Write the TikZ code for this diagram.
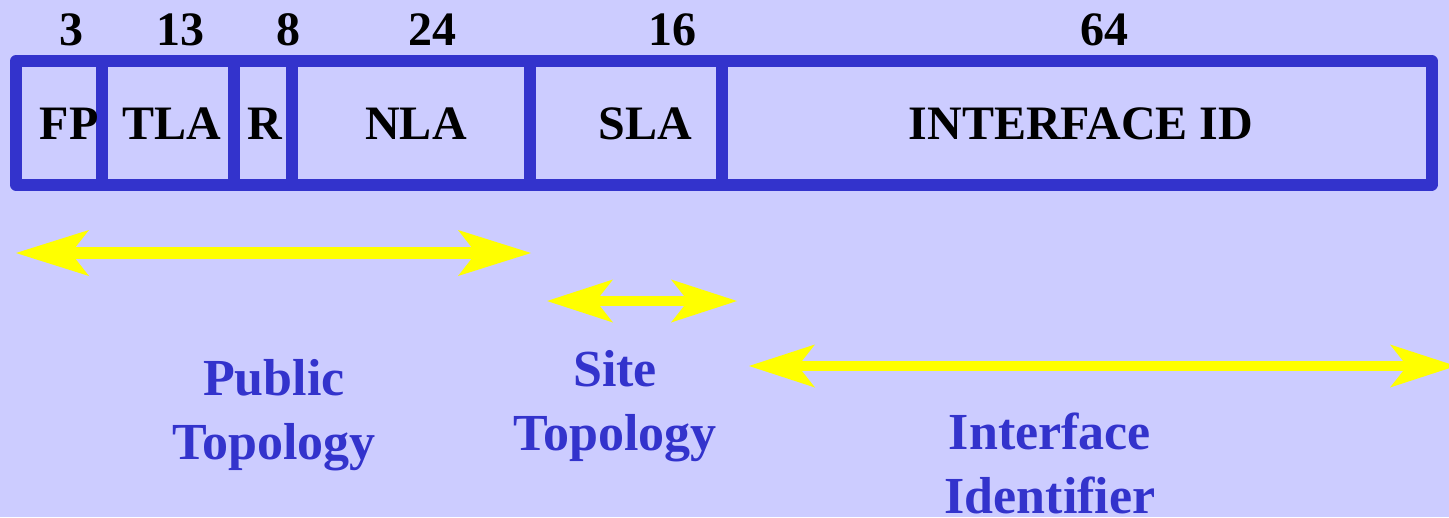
\documentclass[tikz,border=0pt]{standalone}
\usepackage{fontspec}
\setmainfont{Liberation Serif}
\usetikzlibrary{arrows.meta}
\definecolor{bg}{HTML}{CCCCFF}
\definecolor{boxblue}{HTML}{3333CC}
\definecolor{arrowyellow}{HTML}{FFFF00}
\tikzset{
  field/.style={draw=boxblue, line width=12pt, line join=round},
  bits/.style={font=\fontsize{48}{58}\selectfont\bfseries, text=black, anchor=base, inner sep=0pt},
  fname/.style={font=\fontsize{48}{58}\selectfont\bfseries, text=black, anchor=base, inner sep=0pt},
  topo/.style={font=\fontsize{52}{64}\selectfont\bfseries, text=boxblue, anchor=base, inner sep=0pt, align=center},
  spanbig/.style={draw=arrowyellow, line width=12pt,
    {Stealth[length=73pt,width=46pt,inset=18pt,line width=0pt,fill=arrowyellow]}-{Stealth[length=73pt,width=46pt,inset=18pt,line width=0pt,fill=arrowyellow]}},
  spansmall/.style={draw=arrowyellow, line width=10pt,
    {Stealth[length=66pt,width=43pt,inset=17pt,line width=0pt,fill=arrowyellow]}-{Stealth[length=66pt,width=43pt,inset=17pt,line width=0pt,fill=arrowyellow]}},
}
\begin{document}
\begin{tikzpicture}[x=1pt,y=-1pt]
\useasboundingbox (0,0) rectangle (1449,517);
\fill[bg] (0,0) rectangle (1449,517);
% field boxes
\draw[field] (16,61) rectangle (102,184.5);
\draw[field] (102,61) rectangle (234,184.5);
\draw[field] (234,61) rectangle (292,184.5);
\draw[field] (292,61) rectangle (530,184.5);
\draw[field] (530,61) rectangle (722,184.5);
\draw[field] (722,61) rectangle (1431.5,184.5);
% bit counts
\node[bits] (b1) at (71,45) {3};
\node[bits] (b2) at (180,45) {13};
\node[bits] (b3) at (288,45) {8};
\node[bits] (b4) at (432,45) {24};
\node[bits] (b5) at (672,45) {16};
\node[bits] (b6) at (1104,45) {64};
% field names
\node[fname] (fp) at (69,139) {FP};
\node[fname] (tla) at (172,139) {TLA};
\node[fname] (r) at (265,139) {R};
\node[fname] (nla) at (416,139) {NLA};
\node[fname] (sla) at (645,139) {SLA};
\node[fname] (iid) at (1081,139) {INTERFACE ID};
% spans
\coordinate (p1) at (16,253);
\coordinate (p2) at (531,253);
\coordinate (s1) at (547,301);
\coordinate (s2) at (737,301);
\coordinate (i1) at (749,366);
\coordinate (i2) at (1456,366);
\draw[spanbig] (p1) -- (p2);
\draw[spansmall] (s1) -- (s2);
\draw[spansmall] (i1) -- (i2);
% labels
\node[topo] (pub) at (274,459) {Public\\Topology};
\node[topo] (site) at (615,450) {Site\\Topology};
\node[topo] (ifc) at (1050,513) {Interface\\Identifier};
\end{tikzpicture}
\end{document}
